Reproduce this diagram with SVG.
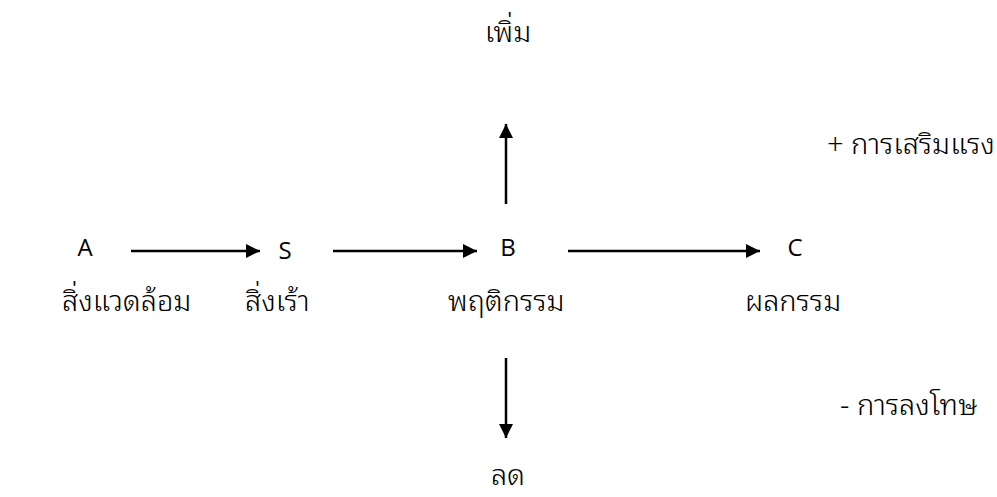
<svg xmlns="http://www.w3.org/2000/svg" width="997" height="497" viewBox="0 0 997 497">
<style>
text{fill:#000;}
.l{font-family:"Open Sans","Noto Sans","DejaVu Sans",sans-serif;font-size:24px;}
.t{font-family:"Noto Sans Thai Looped","Loma","Garuda","Waree","Norasi","Noto Sans Thai","Noto Sans",sans-serif;font-size:29px;font-weight:300;}
.c{stroke:#000;stroke-width:2.5;fill:none;}
</style>
<defs>
<marker id="ah" viewBox="0 0 10 10" refX="10" refY="5" markerWidth="14" markerHeight="16" markerUnits="userSpaceOnUse" orient="auto">
<path d="M0,0 L10,5 L0,10 Z" fill="#000"/>
</marker>
</defs>
<rect width="997" height="497" fill="#fff"/>
<g id="connectors">
<line class="c" x1="131" y1="251" x2="260" y2="251" marker-end="url(#ah)"/>
<line class="c" x1="333" y1="251" x2="477" y2="251" marker-end="url(#ah)"/>
<line class="c" x1="568" y1="251" x2="760" y2="251" marker-end="url(#ah)"/>
<line class="c" x1="506" y1="204" x2="506" y2="124" marker-end="url(#ah)"/>
<line class="c" x1="506" y1="358" x2="506" y2="438" marker-end="url(#ah)"/>
</g>
<g id="node-A"><text class="l" x="85" y="256" text-anchor="middle">A</text>
<text class="t" x="62" y="311">สิ่งแวดล้อม</text></g>
<g id="node-S"><text class="l" x="285" y="259" text-anchor="middle">S</text>
<text class="t" x="245" y="311">สิ่งเร้า</text></g>
<g id="node-B"><text class="l" x="508" y="256" text-anchor="middle">B</text>
<text class="t" x="448" y="311">พฤติกรรม</text></g>
<g id="node-C"><text class="l" x="795" y="256" text-anchor="middle">C</text>
<text class="t" x="745" y="311">ผลกรรม</text></g>
<g id="node-up"><text class="t" x="508" y="42" text-anchor="middle">เพิ่ม</text></g>
<g id="node-down"><text class="t" x="508" y="485" text-anchor="middle">ลด</text></g>
<g id="node-plus"><text class="t" x="827" y="154">+ การเสริมแรง</text></g>
<g id="node-minus"><text class="t" x="840" y="415">- การลงโทษ</text></g>
</svg>
